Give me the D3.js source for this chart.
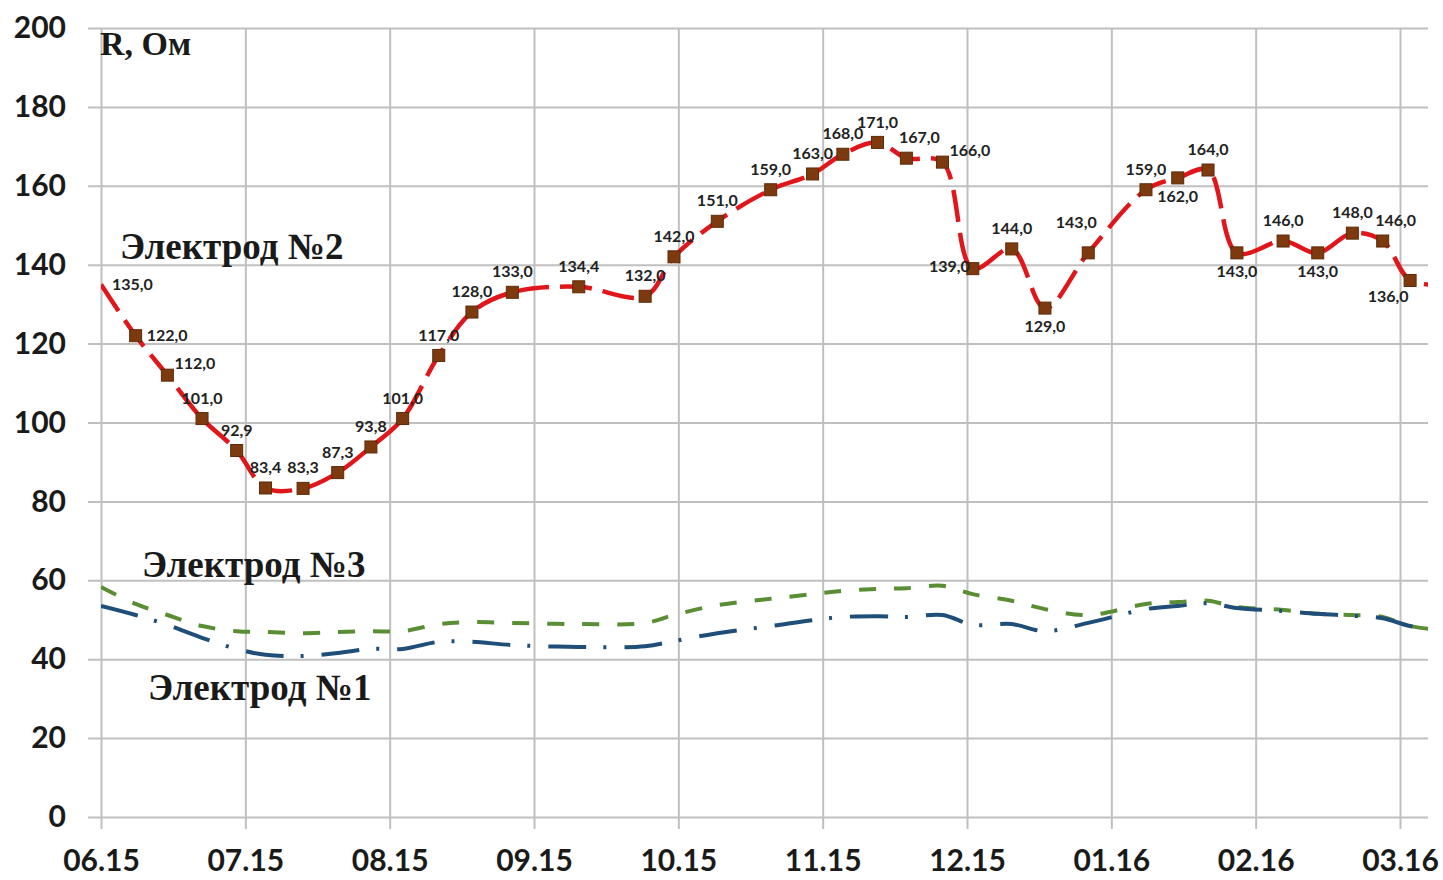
<!DOCTYPE html>
<html>
<head>
<meta charset="utf-8">
<script src="https://cdn.jsdelivr.net/npm/d3@7"></script>
<style>
  body { margin: 0; background: #fff; }
  .grid line { stroke: #c0c0c0; stroke-width: 2; }
  .grid path { display: none; }
  .tick text { font-family: Lato, "Open Sans", sans-serif; font-weight: 700; fill: #1a1a1a; }
  .lbl { font-family: Lato, sans-serif; font-weight: 700; font-size: 16px; fill: #222; }
  .name { font-family: "Liberation Serif", "DejaVu Serif", serif; font-weight: 700; fill: #1a1a1a; }
</style>
</head>
<body>
<svg></svg>
<script>
// Data (x = months after 06.15)
const months = [0, 0.24, 0.46, 0.70, 0.94, 1.14, 1.40, 1.64, 1.87, 2.09, 2.34, 2.57, 2.85,
  3.31, 3.77, 3.97, 4.27, 4.64, 4.93, 5.14, 5.38, 5.58, 5.83, 6.04, 6.31, 6.54, 6.84,
  7.24, 7.46, 7.67, 7.87, 8.19, 8.43, 8.67, 8.88, 9.07, 9.28];

const electrode2 = [135, 122, 112, 101, 92.9, 83.4, 83.3, 87.3, 93.8, 101, 117, 128, 133,
  134.4, 132, 142, 151, 159, 163, 168, 171, 167, 166, 139, 144, 129, 143,
  159, 162, 164, 143, 146, 143, 148, 146, 136, 135];

const electrode3 = [58.3, 54.0, 51.2, 48.4, 47.1, 46.9, 46.6, 46.9, 47.1, 47.1, 48.9, 49.4, 49.2,
  48.9, 49.2, 51.2, 53.7, 55.3, 56.5, 57.3, 57.8, 58.0, 58.6, 56.5, 54.8, 52.7, 51.2,
  54.0, 54.5, 54.8, 53.2, 52.5, 51.5, 51.2, 50.7, 48.4, 47.4];

const electrode1 = [53.5, 51.2, 48.7, 45.4, 42.6, 41.1, 40.8, 41.6, 42.6, 42.6, 44.4, 44.4, 43.6,
  43.1, 43.3, 44.6, 46.6, 48.4, 49.9, 50.7, 50.9, 50.7, 51.2, 48.7, 48.9, 47.1, 49.2,
  52.7, 53.5, 54.2, 53.0, 52.2, 51.5, 51.0, 50.4, 48.4, 47.4];

const monthLabels = ["06.15", "07.15", "08.15", "09.15", "10.15", "11.15", "12.15", "01.16", "02.16", "03.16"];
const yTicks = [0, 20, 40, 60, 80, 100, 120, 140, 160, 180, 200];

// where each data label of electrode 2 sits relative to its marker
const labelPos = ["r", "r", "tr", "t", "t", "t", "t", "t", "t", "t", "t", "t", "t",
  "t", "t", "t", "t", "t", "t", "t", "t", "tc", "tr", "l", "t", "b", "tl",
  "t", "b", "t", "b", "t", "b", "t", "tc", "bl", "none"];

// Sizes
const W = 1443, H = 880;
const plot = { l: 101, r: 1428, t: 28, b: 817, gridL: 88 };

const svg = d3.select("svg").attr("width", W).attr("height", H);

// Scales
const x = d3.scaleLinear().domain([0, 9]).range([plot.l, 1400]);
const y = d3.scaleLinear().domain([0, 200]).range([plot.b, plot.t]);

// Grid
svg.append("g")
  .attr("class", "grid")
  .attr("transform", `translate(${plot.gridL}, 0)`)
  .call(d3.axisLeft(y).tickValues(yTicks).tickSize(-(plot.r - plot.gridL)).tickFormat(""));

svg.append("g")
  .attr("class", "grid")
  .attr("transform", `translate(0, ${plot.b + 12})`)
  .call(d3.axisBottom(x).tickValues(d3.range(monthLabels.length)).tickSize(-(plot.b + 12 - plot.t)).tickFormat(""));

// Y labels
svg.append("g")
  .attr("transform", `translate(66, 0)`)
  .call(d3.axisLeft(y).tickValues(yTicks).tickSize(0).tickPadding(0))
  .call(g => g.select(".domain").remove())
  .call(g => g.selectAll("text").style("font-size", "30px"));

// X labels
svg.append("g")
  .attr("transform", `translate(0, 850)`)
  .call(d3.axisBottom(x).tickValues(d3.range(monthLabels.length)).tickSize(0).tickPadding(0)
    .tickFormat(i => monthLabels[i]))
  .call(g => g.select(".domain").remove())
  .call(g => g.selectAll("text").style("font-size", "30px"));

// Clip
svg.append("clipPath").attr("id", "clip")
  .append("rect").attr("x", plot.l).attr("y", 0).attr("width", plot.r - plot.l).attr("height", H);

const curve = d3.curveCatmullRom.alpha(0.5);
const lineOf = vals => d3.line().curve(curve).x((d, i) => x(months[i])).y(d => y(d))(vals);

const series = svg.append("g").attr("clip-path", "url(#clip)");

series.append("path")
  .attr("d", lineOf(electrode3))
  .attr("fill", "none").attr("stroke", "#5a8e34").attr("stroke-width", 4)
  .attr("stroke-dasharray", "17,18");

series.append("path")
  .attr("d", lineOf(electrode1))
  .attr("fill", "none").attr("stroke", "#1f4e79").attr("stroke-width", 4)
  .attr("stroke-dasharray", "38,17,3,18");

series.append("path")
  .attr("d", lineOf(electrode2))
  .attr("fill", "none").attr("stroke", "#e0161b").attr("stroke-width", 4.5)
  .attr("stroke-dasharray", "32,11");

// Markers (first one is off the plot edge in the original)
const ms = 12;
series.selectAll("rect.m")
  .data(electrode2.map((v, i) => ({ v, i })).filter(d => d.i > 0))
  .join("rect")
  .attr("class", "m")
  .attr("x", d => x(months[d.i]) - ms / 2)
  .attr("y", d => y(d.v) - ms / 2)
  .attr("width", ms).attr("height", ms)
  .attr("fill", "#7c3a0e").attr("stroke", "#5e2a08").attr("stroke-width", 1);

// Data labels
const offsets = {
  t: [0, -19, "middle"], b: [0, 20, "middle"], r: [11, 1, "start"],
  tr: [7, -10, "start"], tc: [13, -19, "middle"], l: [-3, -1, "end"],
  tl: [-12, -29, "middle"], bl: [-22, 17, "middle"]
};
const fmt = v => d3.format(".1f")(v).replace(".", ",");

svg.append("g")
  .selectAll("text")
  .data(electrode2.map((v, i) => ({ v, i, p: labelPos[i] })).filter(d => d.p !== "none"))
  .join("text")
  .attr("class", "lbl")
  .attr("x", d => x(months[d.i]) + offsets[d.p][0])
  .attr("y", d => y(d.v) + offsets[d.p][1])
  .attr("text-anchor", d => offsets[d.p][2])
  .attr("dominant-baseline", "middle")
  .text(d => fmt(d.v));

// Series names and unit
svg.append("text").attr("class", "name").attr("x", 100).attr("y", 55)
  .style("font-size", "34px").text("R, Ом");
svg.append("text").attr("class", "name").attr("x", 120).attr("y", 259)
  .style("font-size", "37px").text("Электрод №2");
svg.append("text").attr("class", "name").attr("x", 142).attr("y", 577)
  .style("font-size", "37px").text("Электрод №3");
svg.append("text").attr("class", "name").attr("x", 148).attr("y", 700)
  .style("font-size", "37px").text("Электрод №1");
</script>
</body>
</html>
